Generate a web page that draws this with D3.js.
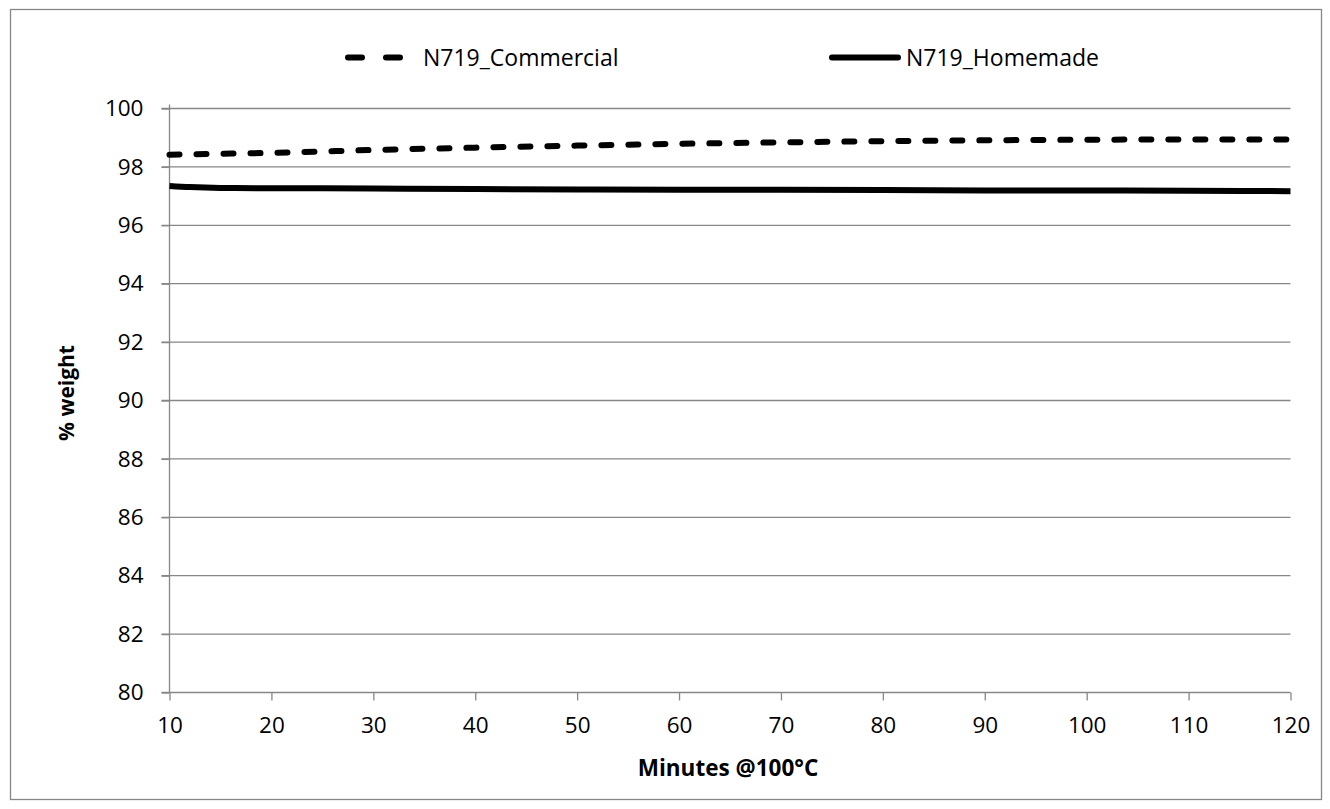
<!DOCTYPE html>
<html>
<head>
<meta charset="utf-8">
<script src="https://cdn.jsdelivr.net/npm/d3@7/dist/d3.min.js"></script>
<style>
  html, body { margin: 0; padding: 0; background: #fff; }
  svg { display: block; font-family: "Open Sans", "Liberation Sans", sans-serif; }
</style>
</head>
<body>
<svg id="chart" width="1330" height="809"></svg>
<script>
// Weight retention at 100 °C over time
const minutes = [10, 12, 15, 20, 30, 40, 50, 60, 70, 80, 90, 100, 110, 120];
const commercial = [98.42, 98.43, 98.45, 98.48, 98.58, 98.66, 98.73, 98.79, 98.84, 98.88, 98.91, 98.93, 98.94, 98.94];
const homemade = [97.35, 97.31, 97.28, 97.27, 97.26, 97.24, 97.23, 97.22, 97.22, 97.21, 97.19, 97.19, 97.18, 97.17];
const seriesNames = ["N719_Commercial", "N719_Homemade"];
const xTicks = [10, 20, 30, 40, 50, 60, 70, 80, 90, 100, 110, 120];
const yTicks = [80, 82, 84, 86, 88, 90, 92, 94, 96, 98, 100];

const svg = d3.select("#chart");
const plot = { left: 169.5, right: 1290.5, top: 108.5, bottom: 692.5 };
const gridColor = "#878787";
const tickFont = 22.5;

// Outer frame
svg.append("rect")
  .attr("x", 10.5).attr("y", 9.5)
  .attr("width", 1311).attr("height", 790)
  .attr("fill", "#fff").attr("stroke", gridColor).attr("stroke-width", 1.3);

const x = d3.scaleLinear().domain([10, 120]).range([plot.left, plot.right]);
const y = d3.scaleLinear().domain([80, 100]).range([plot.bottom, plot.top]);

// Horizontal gridlines
svg.append("g").selectAll("line").data(yTicks.filter(v => v !== 80)).join("line")
  .attr("x1", plot.left - 8).attr("x2", plot.right)
  .attr("y1", d => y(d)).attr("y2", d => y(d))
  .attr("stroke", gridColor).attr("stroke-width", 1.3);

// Y axis
const yAxis = svg.append("g").attr("transform", `translate(${plot.left},0)`)
  .call(d3.axisLeft(y).tickValues(yTicks).tickSize(8).tickPadding(18).tickSizeOuter(0));
yAxis.select(".domain").attr("stroke", gridColor).attr("stroke-width", 1.3)
  .attr("d", `M0,${plot.bottom}V${plot.top - 4}`);
yAxis.selectAll(".tick line").attr("stroke", gridColor).attr("stroke-width", 1.3);
yAxis.selectAll(".tick text").attr("font-size", tickFont).attr("fill", "#000")
  .attr("font-family", "'Open Sans', sans-serif");

// X axis
const xAxis = svg.append("g").attr("transform", `translate(0,${plot.bottom})`)
  .call(d3.axisBottom(x).tickValues(xTicks).tickSize(8).tickPadding(17).tickSizeOuter(0));
xAxis.select(".domain").attr("stroke", gridColor).attr("stroke-width", 1.3)
  .attr("d", `M${plot.left - 8},0H${plot.right}`);
xAxis.selectAll(".tick line").attr("stroke", gridColor).attr("stroke-width", 1.3);
xAxis.selectAll(".tick text").attr("font-size", tickFont).attr("fill", "#000")
  .attr("font-family", "'Open Sans', sans-serif");

// Series lines
const line = d3.line().x((d, i) => x(minutes[i])).y(d => y(d)).curve(d3.curveMonotoneX);

svg.append("path").datum(commercial)
  .attr("d", line).attr("fill", "none").attr("stroke", "#000")
  .attr("stroke-width", 6).attr("stroke-linecap", "round")
  .attr("stroke-dasharray", "10,17");

svg.append("path").datum(homemade)
  .attr("d", line).attr("fill", "none").attr("stroke", "#000")
  .attr("stroke-width", 6);

// Legend
const legendY = 57.5;
svg.append("line")
  .attr("x1", 348).attr("x2", 400).attr("y1", legendY).attr("y2", legendY)
  .attr("stroke", "#000").attr("stroke-width", 6).attr("stroke-linecap", "round")
  .attr("stroke-dasharray", "14,24");
svg.append("text").attr("x", 423).attr("y", legendY).attr("dy", "0.35em")
  .attr("font-size", 23).text(seriesNames[0]);

svg.append("line")
  .attr("x1", 832).attr("x2", 898).attr("y1", legendY).attr("y2", legendY)
  .attr("stroke", "#000").attr("stroke-width", 6).attr("stroke-linecap", "round");
svg.append("text").attr("x", 906).attr("y", legendY).attr("dy", "0.35em")
  .attr("font-size", 23).text(seriesNames[1]);

// Axis titles
svg.append("text")
  .attr("x", 728).attr("y", 768).attr("dy", "0.35em")
  .attr("text-anchor", "middle").attr("font-size", 22.5).attr("font-weight", "bold")
  .text("Minutes @100°C");

svg.append("text")
  .attr("transform", `translate(67,393) rotate(-90)`)
  .attr("dy", "0.35em")
  .attr("text-anchor", "middle").attr("font-size", 21).attr("font-weight", "bold")
  .text("% weight");
</script>
</body>
</html>
